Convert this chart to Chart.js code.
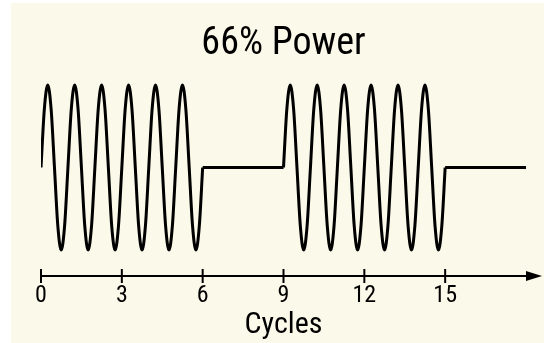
<!DOCTYPE html>
<html>
<head>
<meta charset="utf-8">
<script src="https://cdn.jsdelivr.net/npm/chart.js@4/dist/chart.umd.min.js"></script>
<style>
  html, body { margin: 0; padding: 0; background: #ffffff; }
  #marco { position: absolute; left: 11px; top: 3px; width: 533px; height: 340px; background: #fbf9e9; }
</style>
</head>
<body>
<div id="marco"><canvas id="potencia"></canvas></div>
<script>
// first burst of six cycles (0 -> 6), read every eighth of a cycle
const burst1Cycles = [
  0, 0.125, 0.25, 0.375, 0.5, 0.625, 0.75, 0.875,
  1, 1.125, 1.25, 1.375, 1.5, 1.625, 1.75, 1.875,
  2, 2.125, 2.25, 2.375, 2.5, 2.625, 2.75, 2.875,
  3, 3.125, 3.25, 3.375, 3.5, 3.625, 3.75, 3.875,
  4, 4.125, 4.25, 4.375, 4.5, 4.625, 4.75, 4.875,
  5, 5.125, 5.25, 5.375, 5.5, 5.625, 5.75, 5.875,
  6
];
const burst1Level = [
  0, 0.71, 1, 0.71, 0, -0.71, -1, -0.71,
  0, 0.71, 1, 0.71, 0, -0.71, -1, -0.71,
  0, 0.71, 1, 0.71, 0, -0.71, -1, -0.71,
  0, 0.71, 1, 0.71, 0, -0.71, -1, -0.71,
  0, 0.71, 1, 0.71, 0, -0.71, -1, -0.71,
  0, 0.71, 1, 0.71, 0, -0.71, -1, -0.71,
  0
];

// second burst (9 -> 15)
const burst2Cycles = [
  9, 9.125, 9.25, 9.375, 9.5, 9.625, 9.75, 9.875,
  10, 10.125, 10.25, 10.375, 10.5, 10.625, 10.75, 10.875,
  11, 11.125, 11.25, 11.375, 11.5, 11.625, 11.75, 11.875,
  12, 12.125, 12.25, 12.375, 12.5, 12.625, 12.75, 12.875,
  13, 13.125, 13.25, 13.375, 13.5, 13.625, 13.75, 13.875,
  14, 14.125, 14.25, 14.375, 14.5, 14.625, 14.75, 14.875,
  15
];
const burst2Level = [
  0, 0.71, 1, 0.71, 0, -0.71, -1, -0.71,
  0, 0.71, 1, 0.71, 0, -0.71, -1, -0.71,
  0, 0.71, 1, 0.71, 0, -0.71, -1, -0.71,
  0, 0.71, 1, 0.71, 0, -0.71, -1, -0.71,
  0, 0.71, 1, 0.71, 0, -0.71, -1, -0.71,
  0, 0.71, 1, 0.71, 0, -0.71, -1, -0.71,
  0
];

// off periods
const off1Cycles = [6, 9];
const off1Level = [0, 0];
const off2Cycles = [15, 18];
const off2Level = [0, 0];

const tickValues = [0, 3, 6, 9, 12, 15];

const fuente = "'Roboto Condensed', 'DejaVu Sans Condensed', sans-serif";

function puntos(xs, ys) {
  return xs.map((c, i) => ({ x: c, y: ys[i] }));
}

function serie(xs, ys, curva) {
  return {
    data: puntos(xs, ys),
    borderColor: '#000000',
    borderWidth: 3,
    pointRadius: 0,
    fill: false,
    cubicInterpolationMode: curva ? 'monotone' : 'default',
    tension: 0,
    borderJoinStyle: 'miter'
  };
}

// axis line with crossing ticks and arrow head
const ejeFlecha = {
  id: 'ejeFlecha',
  afterDatasetsDraw(chart) {
    const { ctx, chartArea, scales: { x } } = chart;
    const y0 = chartArea.bottom;
    const x0 = x.getPixelForValue(0);
    const punta = chartArea.right + 16;
    ctx.save();
    ctx.strokeStyle = '#000';
    ctx.fillStyle = '#000';
    ctx.lineWidth = 2;
    ctx.beginPath();
    ctx.moveTo(x0, y0);
    ctx.lineTo(punta - 8, y0);
    ctx.stroke();
    tickValues.forEach(v => {
      const px = x.getPixelForValue(v);
      ctx.beginPath();
      ctx.moveTo(px, y0 - 7);
      ctx.lineTo(px, y0 + 7);
      ctx.stroke();
    });
    ctx.beginPath();
    ctx.moveTo(punta, y0);
    ctx.lineTo(punta - 16, y0 - 5);
    ctx.lineTo(punta - 16, y0 + 5);
    ctx.closePath();
    ctx.fill();
    ctx.restore();
  }
};

new Chart(document.getElementById('potencia'), {
  type: 'line',
  data: {
    datasets: [
      serie(burst1Cycles, burst1Level, true),
      serie(off1Cycles, off1Level, false),
      serie(burst2Cycles, burst2Level, true),
      serie(off2Cycles, off2Level, false)
    ]
  },
  options: {
    responsive: true,
    maintainAspectRatio: false,
    animation: false,
    layout: { padding: { left: 30, right: 18, top: 0, bottom: 0 } },
    plugins: {
      legend: { display: false },
      tooltip: { enabled: false },
      title: {
        display: true,
        text: '66% Power',
        color: '#000',
        font: { family: fuente, size: 38, weight: 'normal', lineHeight: 1 },
        padding: { top: 22, bottom: 7 }
      }
    },
    scales: {
      x: {
        type: 'linear',
        min: 0,
        max: 18,
        grid: { display: false, drawTicks: false },
        border: { display: false },
        afterBuildTicks: s => { s.ticks = tickValues.map(v => ({ value: v })); },
        afterFit: s => { s.height = 67; },
        ticks: {
          color: '#000',
          padding: 6,
          maxRotation: 0,
          autoSkip: false,
          font: { family: fuente, size: 24 }
        },
        title: {
          display: true,
          text: 'Cycles',
          color: '#000',
          font: { family: fuente, size: 30, lineHeight: 1 },
          padding: { top: 0, bottom: 3 }
        }
      },
      y: {
        display: false,
        min: -1.3152,
        max: 1.1818
      }
    }
  },
  plugins: [ejeFlecha]
});
</script>
</body>
</html>
